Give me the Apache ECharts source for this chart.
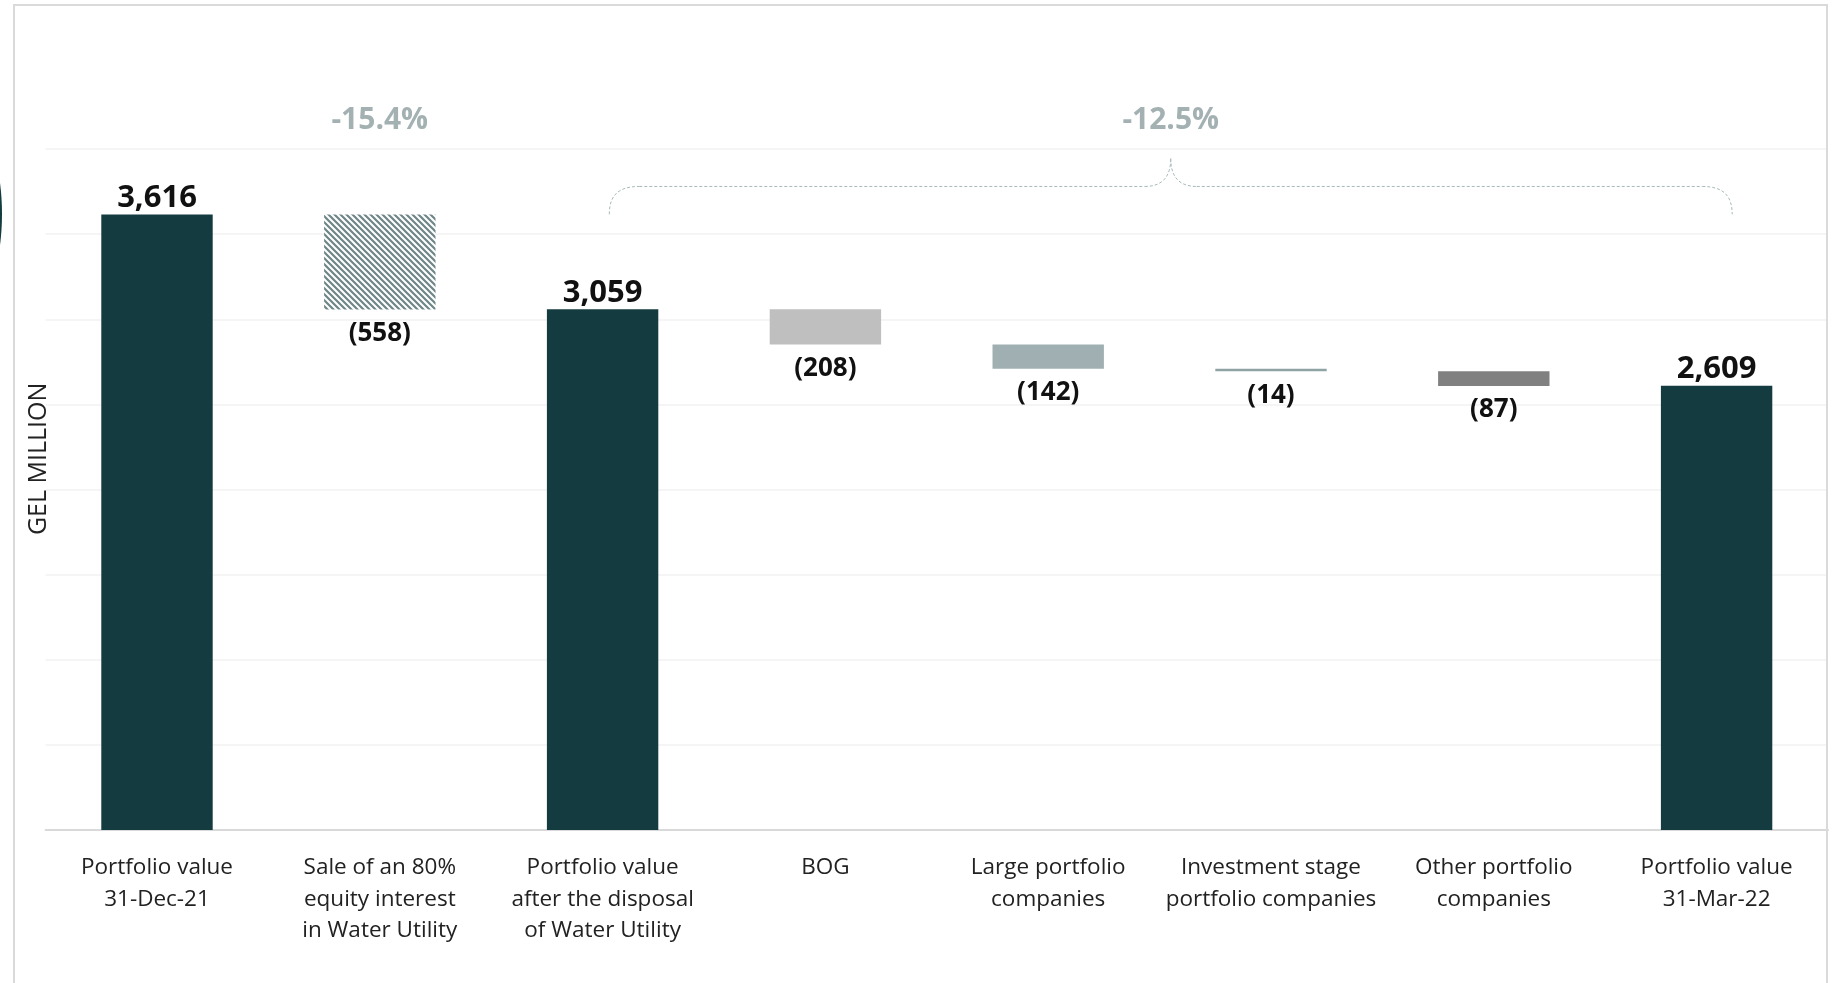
<!DOCTYPE html>
<html>
<head>
<meta charset="utf-8">
<script src="https://cdn.jsdelivr.net/npm/echarts@6/dist/echarts.min.js"></script>
<style>
html,body{margin:0;padding:0;background:#fff;}
#chart{width:1833px;height:983px;}
</style>
</head>
<body>
<div id="chart"></div>
<script>
// ---- data ----
var categories = [
  'Portfolio value\n31-Dec-21',
  'Sale of an 80%\nequity interest\nin Water Utility',
  'Portfolio value\nafter the disposal\nof Water Utility',
  'BOG',
  'Large portfolio\ncompanies',
  'Investment stage\nportfolio companies',
  'Other portfolio\ncompanies',
  'Portfolio value\n31-Mar-22'
];
var values = [3616, -558, 3059, -208, -142, -14, -87, 2609];
var isTotal = [true, false, true, false, false, false, false, true];
var changeLabels = ['-15.4%', '-12.5%'];
var yTicks = {min: 0, max: 4000, interval: 500};
var yTitle = 'GEL MILLION';

// ---- styles ----
var DARK = '#143B40';
function hatch() {
  var c = document.createElement('canvas');
  c.width = 6; c.height = 6;
  var g = c.getContext('2d');
  g.fillStyle = '#ffffff'; g.fillRect(0, 0, 6, 6);
  g.strokeStyle = '#6F8688'; g.lineWidth = 2.2;
  g.beginPath();
  g.moveTo(-3, -3); g.lineTo(9, 9);
  g.moveTo(-3, 3); g.lineTo(3, 9);
  g.moveTo(3, -3); g.lineTo(9, 3);
  g.stroke();
  return {image: c, repeat: 'repeat'};
}
var barColors = [DARK, hatch(), DARK, '#BFBFBF', '#A0AFB1', '#8FA3A5', '#808080', DARK];

// ---- waterfall build ----
var baseData = [], barData = [];
var level = 0;
for (var i = 0; i < values.length; i++) {
  if (isTotal[i]) {
    baseData.push(0);
    barData.push({value: values[i], itemStyle: {color: barColors[i]},
      label: {show: true, position: 'top', distance: 1, fontSize: 31, fontWeight: 'bold', color: '#111',
        formatter: function (p) { return p.value.toLocaleString('en-US'); }}});
    level = values[i];
  } else {
    level = level + values[i];
    baseData.push(level);
    barData.push({value: -values[i], itemStyle: {color: barColors[i]},
      label: {show: true, position: 'bottom', distance: 11, fontSize: 26, fontWeight: 'bold', color: '#111',
        formatter: function (p) { return '(' + p.value + ')'; }}});
  }
}

var chart = echarts.init(document.getElementById('chart'));
var FONT = '"Open Sans", "Noto Sans", sans-serif';
chart.setOption({
  animation: false,
  textStyle: {fontFamily: FONT},
  grid: {left: 45.6, right: 5, top: 149, bottom: 153, containLabel: false},
  xAxis: {
    type: 'category', data: categories,
    axisLine: {lineStyle: {color: '#D9D9D9', width: 2}},
    axisTick: {show: false},
    axisLabel: {interval: 0, margin: 22, fontSize: 22.5, lineHeight: 31.6, color: '#222', fontFamily: FONT}
  },
  yAxis: {
    type: 'value', min: yTicks.min, max: yTicks.max, interval: yTicks.interval,
    axisLine: {show: false}, axisTick: {show: false}, axisLabel: {show: false},
    splitLine: {lineStyle: {color: '#F2F2F2', width: 1.5}}
  },
  series: [
    {type: 'bar', stack: 'w', data: baseData, itemStyle: {color: 'transparent'}, silent: true, barWidth: '50%'},
    {type: 'bar', stack: 'w', data: barData, barWidth: '50%', labelLayout: {hideOverlap: false}}
  ]
});

// annotations computed from axis scales
function px(ci, v) { return chart.convertToPixel({gridIndex: 0}, [ci, v]); }
var catW = px(1, 0)[0] - px(0, 0)[0];
var x0 = px(2, 0)[0] + 0.03 * catW;
var x1 = px(7, 0)[0] + 0.07 * catW;
var yEnd = px(0, values[0])[1];
var yH = px(0, 3780)[1];
var yPk = px(0, 3945)[1];
var xm = (x0 + x1) / 2;
var r = 30, rp = 26;
var braceStyle = {fill: 'none', stroke: '#A9B8BA', lineWidth: 1, lineDash: [3, 2]};
function bez(a, b, c1, c2) {
  return {type: 'bezierCurve', silent: true, style: braceStyle,
    shape: {x1: a[0], y1: a[1], x2: b[0], y2: b[1], cpx1: c1[0], cpy1: c1[1], cpx2: c2[0], cpy2: c2[1]}};
}
function seg(a, b) {
  return {type: 'line', silent: true, style: braceStyle, shape: {x1: a[0], y1: a[1], x2: b[0], y2: b[1]}};
}
var brace = [
  bez([x0, yEnd], [x0 + r, yH], [x0, yH + 10], [x0 + 8, yH]),
  seg([x0 + r, yH], [xm - rp, yH]),
  bez([xm - rp, yH], [xm, yPk], [xm - 8, yH], [xm, yH - 10]),
  bez([xm, yPk], [xm + rp, yH], [xm, yH - 10], [xm + 8, yH]),
  seg([xm + rp, yH], [x1 - r, yH]),
  bez([x1 - r, yH], [x1, yEnd], [x1 - 8, yH], [x1, yH + 10])
];
var pctY = px(0, 4170)[1];
var titleY = px(0, 2180)[1];

chart.setOption({
  graphic: [
    {type: 'rect', shape: {x: 14, y: 5, width: 1813, height: 1000}, style: {fill: 'none', stroke: '#DADADA', lineWidth: 2}, silent: true},
    {type: 'ellipse', shape: {cx: -21, cy: 214, rx: 23, ry: 76}, style: {fill: DARK}, silent: true},
    {type: 'text', x: 39, y: titleY, rotation: Math.PI / 2, style: {text: yTitle, fill: '#222', font: '25px ' + FONT, align: 'center', verticalAlign: 'middle'}},
    {type: 'text', x: px(1, 0)[0], y: pctY, style: {text: changeLabels[0], fill: '#A3B1B3', font: 'bold 30px ' + FONT, align: 'center', verticalAlign: 'middle'}},
    {type: 'text', x: xm, y: pctY, style: {text: changeLabels[1], fill: '#A3B1B3', font: 'bold 30px ' + FONT, align: 'center', verticalAlign: 'middle'}}
  ].concat(brace)
});
</script>
</body>
</html>
